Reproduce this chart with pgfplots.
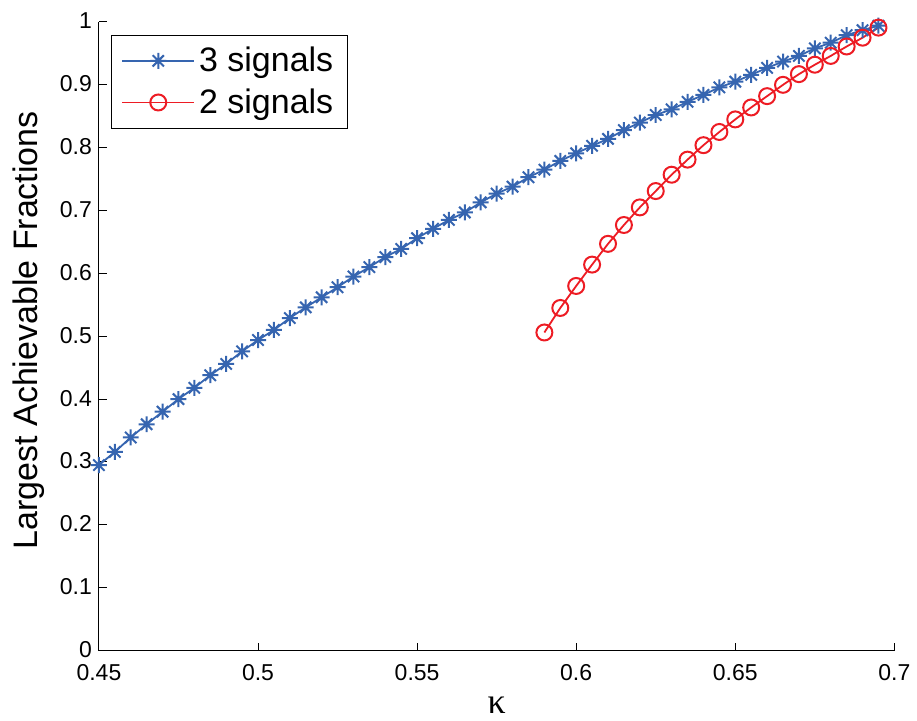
\documentclass[border=0pt]{standalone}
\usepackage{fontspec}
\setmainfont{Liberation Sans}
\newfontfamily\seriffont{Liberation Serif}
\usepackage{pgfplots}
\pgfplotsset{compat=1.18}

\definecolor{mblue}{RGB}{54,101,176}
\definecolor{mred}{RGB}{237,28,36}

% MATLAB style asterisk: plus and cross together
\pgfdeclareplotmark{matstar}{%
  \pgfpathmoveto{\pgfqpoint{-\pgfplotmarksize}{0pt}}%
  \pgfpathlineto{\pgfqpoint{\pgfplotmarksize}{0pt}}%
  \pgfpathmoveto{\pgfqpoint{0pt}{-\pgfplotmarksize}}%
  \pgfpathlineto{\pgfqpoint{0pt}{\pgfplotmarksize}}%
  \pgfpathmoveto{\pgfqpoint{-0.707\pgfplotmarksize}{-0.707\pgfplotmarksize}}%
  \pgfpathlineto{\pgfqpoint{0.707\pgfplotmarksize}{0.707\pgfplotmarksize}}%
  \pgfpathmoveto{\pgfqpoint{-0.707\pgfplotmarksize}{0.707\pgfplotmarksize}}%
  \pgfpathlineto{\pgfqpoint{0.707\pgfplotmarksize}{-0.707\pgfplotmarksize}}%
  \pgfusepathqstroke}

\begin{document}
\begin{tikzpicture}
\begin{axis}[
    width=398pt, height=314.5pt, scale only axis,
    xmin=0.45, xmax=0.7, ymin=0, ymax=1,
    axis x line=bottom, axis y line=left,
    axis line style={-, line width=0.5pt},
    tick align=inside, major tick length=4pt,
    tick style={line width=0.5pt, black},
    xtick={0.45,0.5,0.55,0.6,0.65,0.7},
    ytick={0,0.1,0.2,0.3,0.4,0.5,0.6,0.7,0.8,0.9,1},
    /pgf/number format/assume math mode=true,
    ticklabel style={font=\fontsize{11.5}{13}\selectfont},
    xticklabel style={yshift=-3.5pt},
    yticklabel style={yshift=0.5pt},
    xlabel={\seriffont κ},
    xlabel style={font=\fontsize{18}{20}\selectfont, at={(axis description cs:0.5,0)}, anchor=base, yshift=-31.5pt},
    ylabel={Largest Achievable Fractions},
    ylabel style={font=\fontsize{17}{19}\selectfont, at={(axis description cs:0,0.5)}, anchor=south, inner sep=0pt, yshift=27pt, xshift=3pt},
    legend style={at={(0,1)}, anchor=north west, xshift=6pt, yshift=-6.3pt,
        draw=black, line width=0.5pt, font=\fontsize{17}{19}\selectfont,
        inner xsep=5pt, inner ysep=4pt, row sep=3pt,
        /tikz/every even column/.append style={column sep=2pt}},
    legend cell align=left,
    legend image code/.code={\draw[mark repeat=2,mark phase=2,#1] plot coordinates {(0pt,0pt) (18pt,0pt) (36pt,0pt)};},
]
\addplot[mblue, line width=0.9pt, mark=matstar, mark size=4pt, mark options={line width=1pt}] coordinates {
(0.450,0.295) (0.455,0.316) (0.460,0.339) (0.465,0.360) (0.470,0.380)
(0.475,0.400) (0.480,0.418) (0.485,0.438) (0.490,0.456) (0.495,0.476)
(0.500,0.494) (0.505,0.510) (0.510,0.529) (0.515,0.546) (0.520,0.562)
(0.525,0.578) (0.530,0.595) (0.535,0.610) (0.540,0.626) (0.545,0.639)
(0.550,0.656) (0.555,0.671) (0.560,0.685) (0.565,0.697) (0.570,0.713)
(0.575,0.727) (0.580,0.738) (0.585,0.753) (0.590,0.765) (0.595,0.779)
(0.600,0.791) (0.605,0.803) (0.610,0.814) (0.615,0.828) (0.620,0.840)
(0.625,0.852) (0.630,0.861) (0.635,0.873) (0.640,0.884) (0.645,0.896)
(0.650,0.905) (0.655,0.916) (0.660,0.927) (0.665,0.937) (0.670,0.946)
(0.675,0.958) (0.680,0.967) (0.685,0.979) (0.690,0.987) (0.695,0.994)
};
\addlegendentry{3 signals}
\addplot[mred, line width=0.9pt, mark=o, mark size=4pt, mark options={line width=1pt}] coordinates {
(0.590,0.506) (0.595,0.545) (0.600,0.580) (0.605,0.614) (0.610,0.647)
(0.615,0.677) (0.620,0.705) (0.625,0.731) (0.630,0.757) (0.635,0.781)
(0.640,0.804) (0.645,0.825) (0.650,0.845) (0.655,0.864) (0.660,0.882)
(0.665,0.900) (0.670,0.917) (0.675,0.932) (0.680,0.946) (0.685,0.961)
(0.690,0.975) (0.695,0.991)
};
\addlegendentry{2 signals}
\end{axis}
\path (current axis.south west) ++(-49.5pt,-35pt) (current axis.north east) ++(11pt,11pt);
\end{tikzpicture}
\end{document}
